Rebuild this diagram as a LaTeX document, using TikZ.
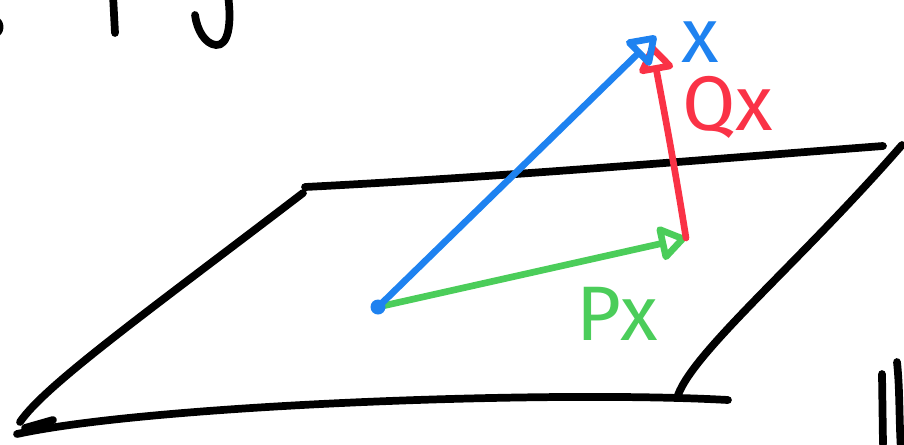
\documentclass[tikz,border=0pt]{standalone}
\usepackage{fontspec}
\newfontfamily\handfont{Fira Sans}
\usetikzlibrary{arrows.meta}
\definecolor{vecblue}{RGB}{30,130,240}
\definecolor{vecred}{RGB}{250,50,70}
\definecolor{vecgreen}{RGB}{75,205,90}

\begin{document}
\begin{tikzpicture}[x=0.02cm, y=-0.02cm,
        pen/.style={line width=4.4pt, line cap=round, line join=round},
        vec/.style={line width=3.8pt, line cap=round, line join=round,
            -{Triangle[open, round, length=17pt, width=22pt]}},
        lbl/.style={font=\handfont\fontsize{44}{44}\selectfont, inner sep=0pt}]

        \useasboundingbox (0,0) rectangle (904,444);
        \clip (0,0) rectangle (904,444);

        % Cut-off strokes at the top
        \draw[pen] (113,-5) -- (115,33);
        \draw[pen] (228,-5) .. controls (232,25) and (228,46) .. (216,45) .. controls (205,44) and (197,30) .. (195,15);
        \draw[pen] (-4,20) .. controls (1,24) and (1,30) .. (-4,34);

        % Draw plane
        \draw[pen] (305,187) .. controls (500,177) and (700,160) .. (883,146);
        \draw[pen] (303,193) .. controls (150,310) and (45,385) .. (20,422);
        \draw[pen] (17,434) .. controls (150,405) and (550,390) .. (728,400);
        \draw[pen] (902,145) .. controls (800,262) and (695,350) .. (678,395);
        \draw[pen] (25,428) -- (53,420);

        % Marks at the bottom right
        \draw[pen] (882,374) -- (883,444);
        \draw[pen] (897,362) .. controls (900,390) and (899,420) .. (901,450);

        % Points
        \coordinate (origin) at (378,307);
        \coordinate (proj) at (686,238);
        \coordinate (tip) at (656,36);
        \coordinate (qtip) at (652,45);

        % Vectors
        \draw[vec, vecgreen] (origin) -- (proj);
        \draw[vec, vecred] (proj) .. controls (672,150) and (660,90) .. (qtip);
        \draw[vec, vecblue] (origin) -- (tip);
        \fill[vecblue] (origin) circle (7.5);

        % Labels
        \node[lbl, vecblue] (lblx) at (700,42) {x};
        \node[lbl, vecred] (lblqx) at (728,107) {Qx};
        \node[lbl, vecgreen] (lblpx) at (617,314) {Px};

\end{tikzpicture}
\end{document}
